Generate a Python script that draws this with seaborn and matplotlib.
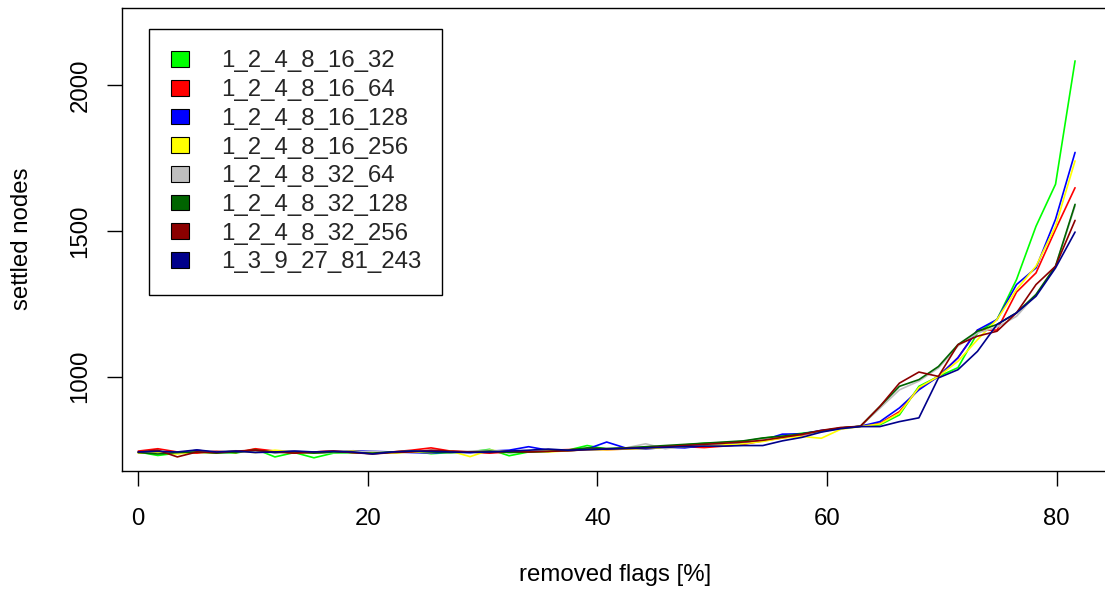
import numpy as np
import pandas as pd
import matplotlib
matplotlib.use("Agg")
import matplotlib.pyplot as plt
from matplotlib.patches import Patch
import seaborn as sns

# ---- data -------------------------------------------------------------
removed_flags = [round(1.7 * i, 1) for i in range(49)]  # x positions (%)

series_names = [
    "1_2_4_8_16_32", "1_2_4_8_16_64", "1_2_4_8_16_128", "1_2_4_8_16_256",
    "1_2_4_8_32_64", "1_2_4_8_32_128", "1_2_4_8_32_256", "1_3_9_27_81_243",
]
series_colors = ["#00FF00", "#FF0000", "#0000FF", "#FFFF00",
                 "#BEBEBE", "#006400", "#8B0000", "#00008B"]

s_16_32 = [742, 730, 738, 740, 742, 738, 752, 725, 740, 722, 738, 740, 742, 738, 745, 736,
           740, 742, 751, 729, 742, 745, 748, 764, 752, 755, 758, 760, 766, 772, 774, 778,
           789, 798, 806, 814, 824,
           830, 835, 869, 967, 1001, 1031, 1150, 1196, 1333, 1516, 1660, 2083]
s_16_64 = [745, 753, 742, 738, 745, 740, 753, 745, 738, 742, 745, 740, 738, 742, 748, 756,
           745, 742, 738, 742, 745, 748, 750, 752, 750, 752, 756, 758, 760, 757, 762, 768,
           780, 790, 800, 812, 824,
           830, 840, 880, 960, 1001, 1065, 1160, 1160, 1290, 1356, 1505, 1648]
s_16_128 = [740, 742, 738, 748, 740, 742, 745, 740, 745, 738, 742, 746, 744, 742, 740, 738,
            742, 740, 745, 748, 760, 748, 745, 752, 776, 755, 752, 758, 756, 764, 768, 772,
            782, 803, 804, 816, 822,
            830, 846, 893, 955, 1001, 1065, 1160, 1196, 1316, 1373, 1540, 1769]
s_16_256 = [738, 740, 735, 742, 738, 745, 740, 748, 742, 738, 742, 745, 740, 738, 742, 740,
            745, 726, 748, 742, 745, 742, 746, 750, 750, 752, 754, 756, 760, 764, 766, 770,
            778, 790, 795, 789, 820,
            829, 838, 875, 963, 1001, 1053, 1127, 1196, 1299, 1379, 1516, 1740]
s_32_64 = [742, 745, 740, 742, 744, 746, 742, 740, 745, 742, 740, 742, 744, 740, 745, 742,
           740, 745, 748, 742, 744, 746, 748, 750, 752, 756, 770, 753, 762, 768, 772, 776,
           784, 796, 802, 812, 822,
           830, 892, 955, 985, 1030, 1105, 1150, 1170, 1207, 1282, 1379, 1585]
s_32_128 = [740, 735, 740, 742, 738, 742, 748, 740, 742, 738, 742, 740, 738, 742, 745, 742,
            740, 742, 745, 740, 742, 744, 748, 756, 754, 756, 760, 764, 768, 772, 776, 780,
            790, 796, 804, 814, 824,
            830, 898, 967, 990, 1035, 1110, 1156, 1179, 1219, 1282, 1379, 1591]
s_32_256 = [742, 748, 725, 742, 740, 745, 748, 742, 738, 742, 745, 740, 735, 740, 742, 748,
            745, 742, 740, 745, 742, 744, 746, 750, 752, 754, 756, 760, 764, 768, 772, 776,
            782, 792, 802, 816, 826,
            830, 898, 978, 1016, 1001, 1110, 1139, 1156, 1219, 1316, 1379, 1536]
s_3_243 = [742, 744, 742, 749, 742, 745, 740, 742, 745, 742, 744, 742, 735, 742, 745, 744,
           742, 740, 742, 745, 748, 752, 748, 750, 752, 754, 756, 758, 760, 762, 762, 764,
           764, 780, 792, 810, 822,
           829, 829, 846, 859, 996, 1024, 1087, 1179, 1219, 1276, 1373, 1496]

x_ticks = [0, 20, 40, 60, 80]
y_ticks = [1000, 1500, 2000]
x_label = "removed flags [%]"
y_label = "settled nodes"

all_values = [s_16_32, s_16_64, s_16_128, s_16_256, s_32_64, s_32_128, s_32_256, s_3_243]
frames = []
for name, vals in zip(series_names, all_values):
    frames.append(pd.DataFrame({"x": removed_flags, "y": vals, "series": name}))
df = pd.concat(frames, ignore_index=True)

# ---- style ------------------------------------------------------------
sns.set_theme(style="white")
FS = 17.3
plt.rcParams["font.family"] = ["Liberation Sans", "DejaVu Sans"]
plt.rcParams["font.size"] = FS

W, H = 1105, 594
fig = plt.figure(figsize=(W / 100, H / 100), dpi=100)
left_px, right_px, top_px, bottom_px = 121.7, 1108.0, 7.5, 471.0
ax = fig.add_axes([left_px / W, 1 - bottom_px / H,
                   (right_px - left_px) / W, (bottom_px - top_px) / H])

sns.lineplot(data=df, x="x", y="y", hue="series", hue_order=series_names,
             palette=series_colors, linewidth=1.2, legend=False, ax=ax,
             estimator=None, sort=False)

ax.set_xlim(-1.446, 84.47)
ax.set_ylim(676.7, 2266)
ax.set_xticks(x_ticks)
ax.set_xticklabels([str(t) for t in x_ticks])
ax.set_yticks(y_ticks)
ax.set_yticklabels([str(t) for t in y_ticks], rotation=90, va="center")

for sp in ax.spines.values():
    sp.set_visible(True)
    sp.set_color("black")
    sp.set_linewidth(1.0)

ax.tick_params(axis="both", which="major", direction="out", length=10.8,
               width=1.0, color="black", labelsize=FS, labelcolor="black",
               bottom=True, left=True)
ax.tick_params(axis="x", pad=15.5)
ax.tick_params(axis="y", pad=11.0)

ax.set_xlabel(x_label, fontsize=FS, color="black", va="center")
ax.set_ylabel(y_label, fontsize=FS, color="black", va="center")
ax.xaxis.set_label_coords(0.5, -(575 - bottom_px) / (bottom_px - top_px))
ax.yaxis.set_label_coords(-(left_px - 21.7) / (right_px - left_px), 0.5)
ax.grid(False)

handles = [Patch(facecolor=c, edgecolor="black", linewidth=0.8) for c in series_colors]
leg = ax.legend(handles, series_names, loc="upper left",
                bbox_to_anchor=(149.3 / W, 1 - 29 / H), bbox_transform=fig.transFigure,
                borderaxespad=0, frameon=True, fancybox=False, shadow=False,
                fontsize=FS, handlelength=0.75, handleheight=0.63,
                handletextpad=1.33, labelspacing=0.28, borderpad=0.89)
frame = leg.get_frame()
frame.set_edgecolor("black")
frame.set_linewidth(1.0)
frame.set_facecolor("white")
frame.set_alpha(1)

fig.savefig("out.png", dpi=100)
